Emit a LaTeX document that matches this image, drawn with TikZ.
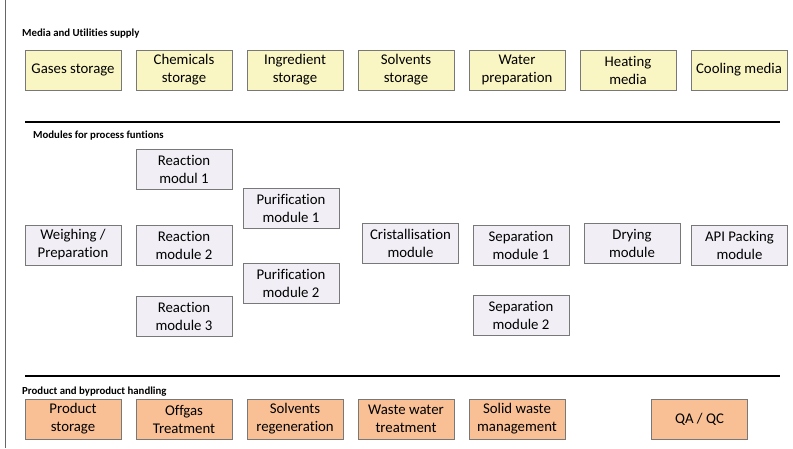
\documentclass[tikz,border=0pt]{standalone}
\usepackage{fontspec}
\setmainfont{Carlito}[Ligatures=NoCommon]

\definecolor{mediaYellow}{RGB}{250,246,196}
\definecolor{moduleGrey}{RGB}{241,239,245}
\definecolor{handlingOrange}{RGB}{249,192,150}
\definecolor{boxBorder}{RGB}{120,120,120}

\tikzset{
  box/.style={draw=boxBorder, line width=0.9pt, minimum width=96, minimum height=40, inner sep=0, align=center, font=\fontsize{14.8}{18}\selectfont},
  media/.style={box, fill=mediaYellow},
  module/.style={box, fill=moduleGrey},
  handling/.style={box, fill=handlingOrange},
  heading/.style={anchor=west, inner sep=0, font=\fontsize{10.8}{12}\selectfont\bfseries},
  divider/.style={line width=1.6pt, black}
}

\begin{document}
\begin{tikzpicture}[x=1pt, y=-1pt]
\useasboundingbox (0,0) rectangle (793,448);
\draw[line width=1pt, gray!80!black] (5,0) -- (5,448);

% media and utilities
\node[heading](mediaHead) at (22,34) {Media and Utilities supply};
\node[media](gases) at (73,70) {Gases storage};
\node[media](chemicals) at (184,70) {Chemicals\\storage};
\node[media](ingredient) at (295,70) {Ingredient\\storage};
\node[media](solvents) at (406,70) {Solvents\\storage};
\node[media](water) at (517,70) {Water\\preparation};
\node[media](heating) at (628,70) {Heating\\media};
\node[media](cooling) at (739,70) {Cooling media};

\coordinate (lineOneL) at (25,122);
\coordinate (lineOneR) at (780,122);
\draw[divider] (lineOneL) -- (lineOneR);

% process modules
\node[heading](moduleHead) at (33,136) {Modules for process funtions};
\node[module](reactionA) at (184,169) {Reaction\\modul 1};
\node[module](purifA) at (291,208) {Purification\\module 1};
\node[module](weighing) at (73,245) {Weighing /\\Preparation};
\node[module](reactionB) at (184,245) {Reaction\\module 2};
\node[module](purifB) at (291,283) {Purification\\module 2};
\node[module](cristal) at (410.5,243) {Cristallisation\\module};
\node[module](separA) at (521,245) {Separation\\module 1};
\node[module](drying) at (632,243) {Drying\\module};
\node[module](packing) at (739.5,245) {API Packing\\module};
\node[module](reactionC) at (184,316.5) {Reaction\\module 3};
\node[module](separB) at (521,315) {Separation\\module 2};

\coordinate (lineTwoL) at (25,376);
\coordinate (lineTwoR) at (780,376);
\draw[divider] (lineTwoL) -- (lineTwoR);

% product and byproduct handling
\node[heading](handlingHead) at (22,392) {Product and byproduct handling};
\node[handling](product) at (73,419) {Product\\storage};
\node[handling](offgas) at (184,419) {Offgas\\Treatment};
\node[handling](regen) at (295,419) {Solvents\\regeneration};
\node[handling](wastewater) at (406,419) {Waste water\\treatment};
\node[handling](solidwaste) at (517,419) {Solid waste\\management};
\node[handling](qaqc) at (699.5,419) {QA / QC};

\end{tikzpicture}
\end{document}
